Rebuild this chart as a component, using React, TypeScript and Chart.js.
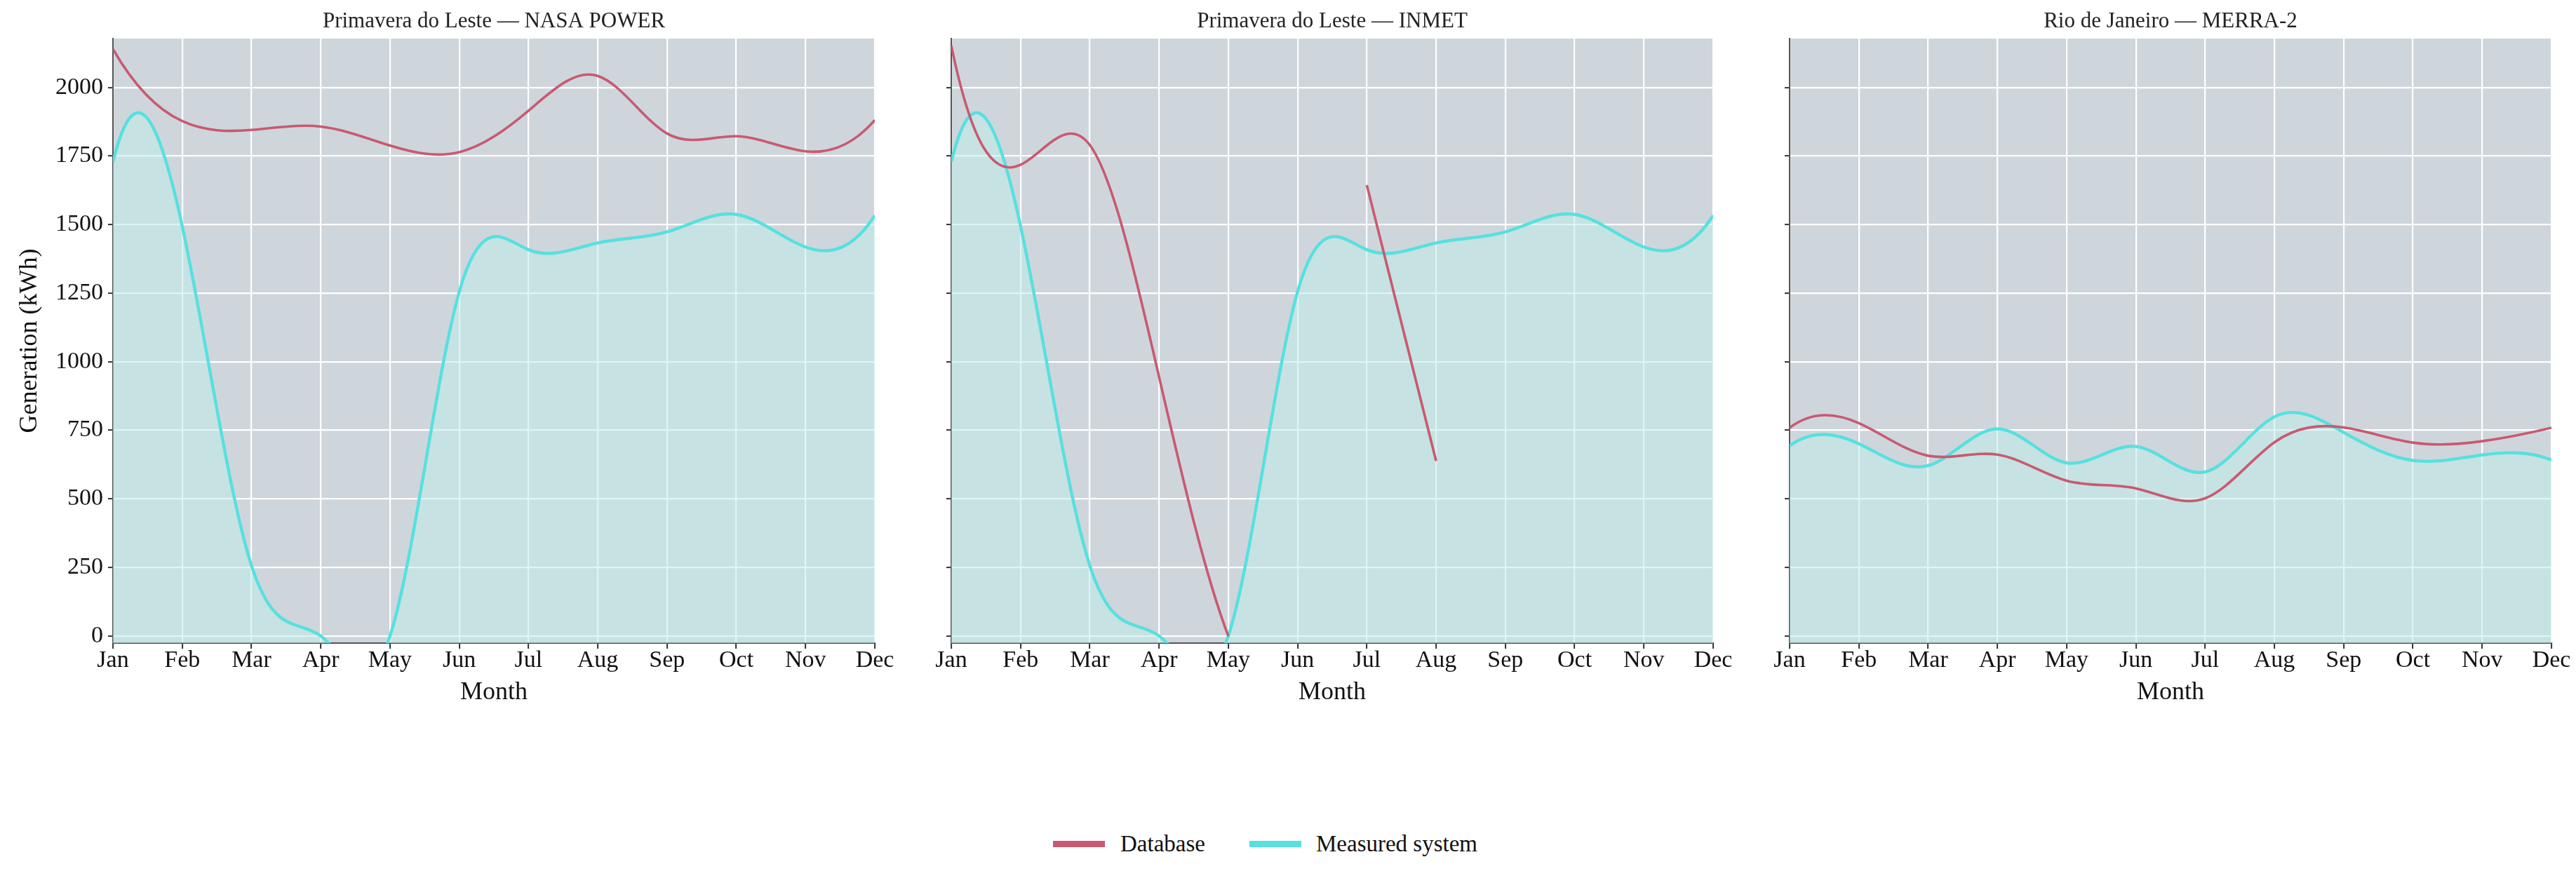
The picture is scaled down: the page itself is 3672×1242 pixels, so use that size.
import React, { useEffect, useRef } from 'react';
import { Chart, registerables } from 'chart.js';

Chart.register(...registerables);

// ---------- data ----------
const months = ['Jan', 'Feb', 'Mar', 'Apr', 'May', 'Jun', 'Jul', 'Aug', 'Sep', 'Oct', 'Nov', 'Dec'];
const monthIndex = [0, 1, 2, 3, 4, 5, 6, 7, 8, 9, 10, 11];

// Primavera do Leste: measured system (same in both left panels)
const primaveraMeasured = [1728, 1495, 257, 0, 0, 1255, 1408, 1433, 1473, 1537, 1418, 1533];
// Primavera do Leste: NASA POWER database
const nasaPowerDatabase = [2140, 1877, 1845, 1857, 1788, 1764, 1915, 2042, 1832, 1822, 1767, 1881];
// Primavera do Leste: INMET database (gaps = missing months)
const inmetDatabase: (number | null)[] = [2153, 1718, 1790, 945, 0, null, 1644, 638, null, null, null, null];
// Rio de Janeiro
const rioMeasured = [693, 701, 621, 755, 631, 691, 598, 799, 742, 640, 660, 642];
const merra2Database = [759, 776, 657, 661, 566, 538, 502, 706, 760, 705, 710, 759];

const panelTitles = [
  'Primavera do Leste \u2014 NASA POWER',
  'Primavera do Leste \u2014 INMET',
  'Rio de Janeiro \u2014 MERRA-2',
];
const yTickValues = [0, 250, 500, 750, 1000, 1250, 1500, 1750, 2000];
const yMin = -26;
const yMax = 2178;

// ---------- styles ----------
const FONT = "'Liberation Serif', 'Times New Roman', serif";
const DB_COLOR = '#C85A70';
const MEAS_COLOR = '#57E0E0';
const FILL_COLOR = 'rgba(190,237,233,0.53)';
const PANEL_BG = '#CED6DC';
const TEXT = '#111111';

const PANEL_W = 1086;
const PANEL_LEFTS = [161, 1356, 2551];
const CHART_BOTTOM = 917;
const X_AXIS_H = 90;
const RIGHT_PAD = 32;

// R's default "fmm" cubic interpolating spline: first derivatives at knots
function fmmSlopes(x: number[], y: number[]): number[] {
  const n = x.length;
  const b = new Array(n).fill(0);
  const c = new Array(n).fill(0);
  const d = new Array(n).fill(0);
  if (n < 2) return b;
  if (n < 3) {
    const t = (y[1] - y[0]) / (x[1] - x[0]);
    return [t, t];
  }
  const nm1 = n - 1;
  d[0] = x[1] - x[0];
  c[1] = (y[1] - y[0]) / d[0];
  for (let i = 1; i < nm1; i++) {
    d[i] = x[i + 1] - x[i];
    b[i] = 2 * (d[i - 1] + d[i]);
    c[i + 1] = (y[i + 1] - y[i]) / d[i];
    c[i] = c[i + 1] - c[i];
  }
  b[0] = -d[0];
  b[nm1] = -d[n - 2];
  c[0] = 0;
  c[nm1] = 0;
  if (n > 3) {
    c[0] = c[2] / (x[3] - x[1]) - c[1] / (x[2] - x[0]);
    c[nm1] = c[n - 2] / (x[nm1] - x[n - 3]) - c[n - 3] / (x[n - 2] - x[n - 4]);
    c[0] = (c[0] * d[0] * d[0]) / (x[3] - x[0]);
    c[nm1] = (-c[nm1] * d[n - 2] * d[n - 2]) / (x[nm1] - x[n - 4]);
  }
  for (let i = 1; i <= nm1; i++) {
    const t = d[i - 1] / b[i - 1];
    b[i] = b[i] - t * d[i - 1];
    c[i] = c[i] - t * c[i - 1];
  }
  c[nm1] = c[nm1] / b[nm1];
  for (let i = n - 2; i >= 0; i--) c[i] = (c[i] - d[i] * c[i + 1]) / b[i];
  const s = new Array(n);
  s[nm1] = (y[nm1] - y[n - 2]) / d[n - 2] + d[n - 2] * (c[n - 2] + 2 * c[nm1]);
  for (let i = 0; i < nm1; i++) s[i] = (y[i + 1] - y[i]) / d[i] - d[i] * (c[i + 1] + 2 * c[i]);
  return s;
}

// Sets Bezier control points of each line so Chart.js draws the fmm spline
const splinePlugin = {
  id: 'fmmSpline',
  afterDatasetsUpdate(chart: any) {
    const xs = chart.scales.x;
    const ys = chart.scales.y;
    chart.data.datasets.forEach((ds: any, di: number) => {
      const meta = chart.getDatasetMeta(di);
      const pts = meta.data as any[];
      const raw = ds.data as { x: number; y: number | null }[];
      let i = 0;
      while (i < raw.length) {
        if (raw[i].y == null) {
          i++;
          continue;
        }
        let j = i;
        while (j + 1 < raw.length && raw[j + 1].y != null) j++;
        const rx: number[] = [];
        const ry: number[] = [];
        for (let k = i; k <= j; k++) {
          rx.push(raw[k].x);
          ry.push(raw[k].y as number);
        }
        const s = fmmSlopes(rx, ry);
        for (let k = i; k <= j; k++) {
          const m = k - i;
          const hPrev = m > 0 ? rx[m] - rx[m - 1] : 0;
          const hNext = m < rx.length - 1 ? rx[m + 1] - rx[m] : 0;
          const p = pts[k];
          if (!p) continue;
          p.cp1x = xs.getPixelForValue(rx[m] - hPrev / 3);
          p.cp1y = ys.getPixelForValue(ry[m] - (s[m] * hPrev) / 3);
          p.cp2x = xs.getPixelForValue(rx[m] + hNext / 3);
          p.cp2y = ys.getPixelForValue(ry[m] + (s[m] * hNext) / 3);
        }
        i = j + 1;
      }
      const line = meta.dataset;
      if (line) {
        line._pointsUpdated = true;
        line._path = undefined;
      }
    });
  },
};

const panelBgPlugin = {
  id: 'panelBg',
  beforeDraw(chart: any) {
    const { ctx, chartArea } = chart;
    ctx.save();
    ctx.fillStyle = PANEL_BG;
    ctx.fillRect(chartArea.left, chartArea.top, chartArea.right - chartArea.left, chartArea.bottom - chartArea.top);
    ctx.restore();
  },
};

const toXY = (arr: (number | null)[]) => arr.map((y, i) => ({ x: monthIndex[i], y }));

function Panel({ idx, database }: { idx: number; database: (number | null)[] }) {
  const ref = useRef<HTMLCanvasElement>(null);
  const yW = idx === 0 ? 161 : 40;
  const left = PANEL_LEFTS[idx] - yW;
  const width = yW + PANEL_W + RIGHT_PAD;
  const height = CHART_BOTTOM + X_AXIS_H;
  const measured = idx === 2 ? rioMeasured : primaveraMeasured;

  useEffect(() => {
    if (!ref.current) return;
    const chart = new Chart(ref.current, {
      type: 'line',
      data: {
        datasets: [
          {
            label: 'Database',
            data: toXY(database) as any,
            borderColor: DB_COLOR,
            borderWidth: 3.6,
            pointRadius: 0,
            tension: 0.4,
            fill: false,
            spanGaps: false,
            clip: 0 as any,
          },
          {
            label: 'Measured system',
            data: toXY(measured) as any,
            borderColor: MEAS_COLOR,
            backgroundColor: FILL_COLOR,
            borderWidth: 4.4,
            pointRadius: 0,
            tension: 0.4,
            fill: 'start',
            clip: 0 as any,
          },
        ],
      },
      options: {
        responsive: false,
        animation: false,
        events: [],
        layout: { padding: { left: 0, top: 0, right: RIGHT_PAD, bottom: 0 } },
        plugins: {
          legend: { display: false },
          tooltip: { enabled: false },
          title: {
            display: true,
            text: panelTitles[idx],
            fullSize: false,
            color: '#222222',
            font: { family: FONT, size: 31, weight: 'normal', lineHeight: 1.2 },
            padding: { top: 12.6, bottom: 5.2 },
          },
        },
        scales: {
          x: {
            type: 'linear',
            min: monthIndex[0],
            max: monthIndex[monthIndex.length - 1],
            afterBuildTicks: (s: any) => {
              s.ticks = monthIndex.map((v) => ({ value: v }));
            },
            ticks: {
              autoSkip: false,
              maxRotation: 0,
              padding: 0,
              color: TEXT,
              font: { family: FONT, size: 34, lineHeight: 1 },
              callback: (v: any) => months[Math.round(Number(v))] ?? '',
            },
            grid: { color: '#FFFFFF', lineWidth: 2.2, drawTicks: true, tickLength: 8, tickColor: '#333333', tickWidth: 2 },
            border: { display: true, color: '#555555', width: 2 },
            title: {
              display: true,
              text: 'Month',
              color: TEXT,
              font: { family: FONT, size: 36, lineHeight: 1 },
              padding: { top: 0, bottom: 1 },
            },
            afterFit: (s: any) => {
              s.height = X_AXIS_H;
            },
          },
          y: {
            type: 'linear',
            min: yMin,
            max: yMax,
            afterBuildTicks: (s: any) => {
              s.ticks = yTickValues.map((v) => ({ value: v }));
            },
            ticks: {
              autoSkip: false,
              display: idx === 0,
              padding: 7,
              color: TEXT,
              font: { family: FONT, size: 34, lineHeight: 1 },
              callback: (v: any) => String(v),
            },
            grid: { color: '#FFFFFF', lineWidth: 2.2, drawTicks: true, tickLength: 7, tickColor: '#333333', tickWidth: 2 },
            border: { display: true, color: '#555555', width: 2 },
            title: {
              display: idx === 0,
              text: 'Generation (kWh)',
              color: TEXT,
              font: { family: FONT, size: 36, lineHeight: 1 },
              padding: { top: 25, bottom: 0 },
            },
            afterFit: (s: any) => {
              s.width = yW;
            },
          },
        },
      } as any,
      plugins: [panelBgPlugin, splinePlugin],
    });
    return () => chart.destroy();
  }, []);

  return (
    <canvas
      ref={ref}
      width={width}
      height={height}
      style={{ position: 'absolute', left, top: 0, width, height }}
    />
  );
}

function LegendItem({ color, label, swatchLeft, textLeft }: { color: string; label: string; swatchLeft: number; textLeft: number }) {
  return (
    <>
      <div style={{ position: 'absolute', left: swatchLeft, top: 1198.5, width: 74, height: 9, background: color }} />
      <div
        style={{
          position: 'absolute',
          left: textLeft,
          top: 1187.4,
          fontFamily: FONT,
          fontSize: 33,
          lineHeight: '33px',
          color: TEXT,
          whiteSpace: 'nowrap',
        }}
      >
        {label}
      </div>
    </>
  );
}

export default function App() {
  useEffect(() => {
    document.body.style.overflow = 'hidden';
  }, []);
  return (
    <div style={{ position: 'absolute', left: 0, top: 0, width: 3672, height: 1242, background: '#FFFFFF', overflow: 'hidden' }}>
      <Panel idx={0} database={nasaPowerDatabase} />
      <Panel idx={1} database={inmetDatabase} />
      <Panel idx={2} database={merra2Database} />
      <LegendItem color={DB_COLOR} label="Database" swatchLeft={1501} textLeft={1597} />
      <LegendItem color={MEAS_COLOR} label="Measured system" swatchLeft={1781} textLeft={1876} />
    </div>
  );
}
